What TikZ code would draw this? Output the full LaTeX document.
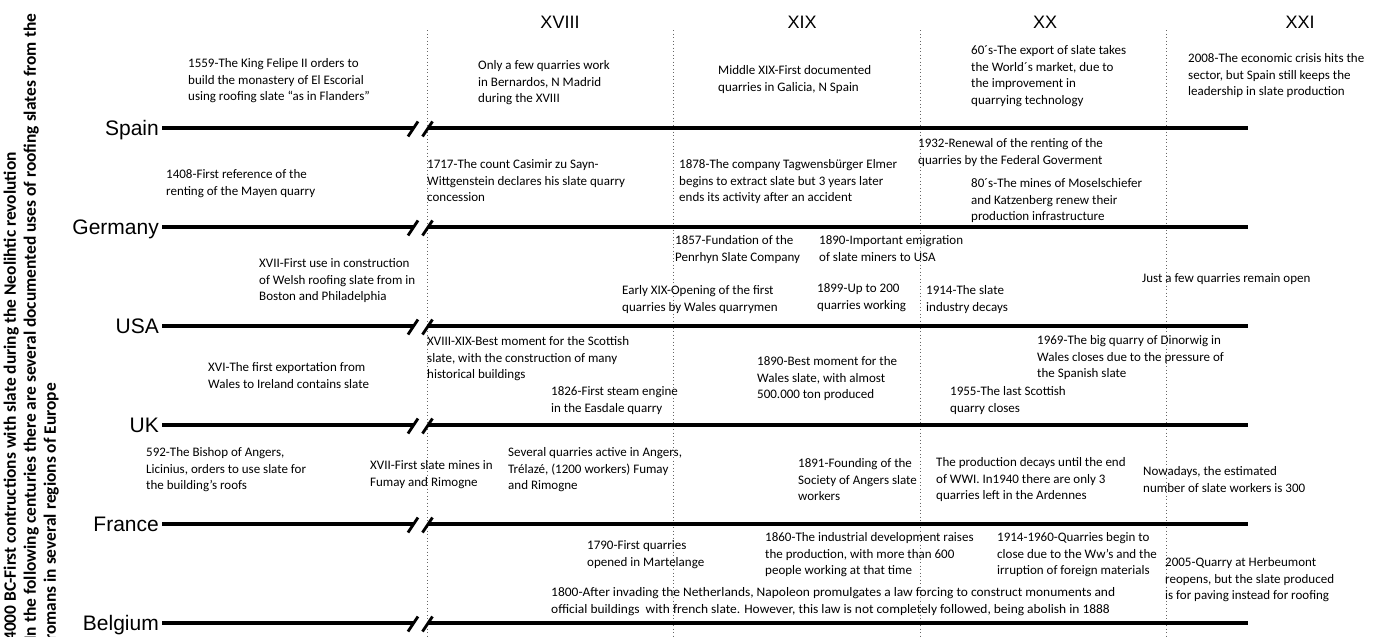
\documentclass[tikz,border=0pt]{standalone}
\usepackage{fontspec}
\setmainfont{Carlito}
\newfontfamily\arialf{Liberation Sans}
\begin{document}
\begin{tikzpicture}[x=1pt,y=-1pt,
  ev/.style={font=\fontsize{13}{16.6}\selectfont, align=left, anchor=north west, inner sep=0pt, yshift=8.62pt, execute at begin node=\strut},
  country/.style={font=\arialf\fontsize{21}{24}\selectfont, anchor=base east, inner sep=0pt},
  century/.style={font=\arialf\fontsize{18}{20}\selectfont, anchor=base, inner sep=0pt},
  tline/.style={line width=4.5pt},
  brk/.style={line width=2.8pt},
  gridline/.style={black!60, line width=0.9pt, dash pattern=on 0.9pt off 2.6pt},
  intro/.style={font=\bfseries\fontsize{17.4}{20}\selectfont, align=left, rotate=90, anchor=north west, inner sep=0pt}
]
\useasboundingbox (0,0) rectangle (1376,637);

% century separators
\foreach \i/\x in {1/427,2/673,3/920,4/1166}{
  \coordinate (g\i t) at (\x,30);
  \coordinate (g\i b) at (\x,637);
  \draw[gridline] (g\i t) -- (g\i b);
}

% century labels
\node[century] (c18) at (560,28.5) {XVIII};
\node[century] (c19) at (802,28.5) {XIX};
\node[century] (c20) at (1045,28.5) {XX};
\node[century] (c21) at (1300,28.5) {XXI};

% timelines
\foreach \n/\y/\lab in {spain/128/Spain, germany/227/Germany, usa/326/USA, uk/425/UK, france/524/France, belgium/623/Belgium}{
  \node[country] (\n) at (159,\y+7.5) {\lab};
  \coordinate (\n-a) at (162,\y);
  \coordinate (\n-b) at (413,\y);
  \coordinate (\n-c) at (428,\y);
  \coordinate (\n-d) at (1248,\y);
  \coordinate (\n-s1) at (408,\y+8.5);
  \coordinate (\n-s2) at (418,\y-6.5);
  \coordinate (\n-s3) at (422.5,\y+8.5);
  \coordinate (\n-s4) at (432.5,\y-6.5);
  \draw[tline] (\n-a) -- (\n-b);
  \draw[tline] (\n-c) -- (\n-d);
  \draw[brk] (\n-s1) -- (\n-s2);
  \draw[brk] (\n-s3) -- (\n-s4);
}

% intro rotated text
\begin{scope}
\clip (0,0) rectangle (1376,637);
\node[intro] (introtxt) at (3.5,641) {4000 BC-First contructions with slate during the Neolihtic revolution\\In the following centuries there are several documented uses of roofing slates from the\\romans in several regions of Europe};
\end{scope}

% Spain
\node[ev] (spA) at (188,67) {1559-The King Felipe II orders to\\build the monastery of El Escorial\\using roofing slate “as in Flanders”};
\node[ev] (spB) at (478,69) {Only a few quarries work\\in Bernardos, N Madrid\\during the XVIII};
\node[ev] (spC) at (718,74) {Middle XIX-First documented\\quarries in Galicia, N Spain};
\node[ev] (spD) at (971,54) {60´s-The export of slate takes\\the World´s market, due to\\the improvement in\\quarrying technology};
\node[ev] (spE) at (1188,62) {2008-The economic crisis hits the\\sector, but Spain still keeps the\\leadership in slate production};

% Germany
\node[ev] (deA) at (166,178) {1408-First reference of the\\renting of the Mayen quarry};
\node[ev] (deB) at (427,168) {1717-The count Casimir zu Sayn-\\Wittgenstein declares his slate quarry\\concession};
\node[ev] (deC) at (679,168) {1878-The company Tagwensbürger Elmer\\begins to extract slate but 3 years later\\ends its activity after an accident};
\node[ev] (deD) at (918,147) {1932-Renewal of the renting of the\\quarries by the Federal Goverment};
\node[ev] (deE) at (971,187) {80´s-The mines of Moselschiefer\\and Katzenberg renew their\\production infrastructure};

% USA
\node[ev] (usA) at (259,267) {XVII-First use in construction\\of Welsh roofing slate from in\\Boston and Philadelphia};
\node[ev] (usB) at (675,244) {1857-Fundation of the\\Penrhyn Slate Company};
\node[ev] (usC) at (819,244) {1890-Important emigration\\of slate miners to USA};
\node[ev] (usD) at (622,294) {Early XIX-Opening of the first\\quarries by Wales quarrymen};
\node[ev] (usE) at (817,292) {1899-Up to 200\\quarries working};
\node[ev] (usF) at (926,294) {1914-The slate\\industry decays};
\node[ev] (usG) at (1142,279) {Just a few quarries remain open};

% UK
\node[ev] (ukA) at (427,345) {XVIII-XIX-Best moment for the Scottish\\slate, with the construction of many\\historical buildings};
\node[ev] (ukB) at (208,371) {XVI-The first exportation from\\Wales to Ireland contains slate};
\node[ev] (ukC) at (551,395) {1826-First steam engine\\in the Easdale quarry};
\node[ev] (ukD) at (757,365) {1890-Best moment for the\\Wales slate, with almost\\500.000 ton produced};
\node[ev] (ukE) at (1037,344) {1969-The big quarry of Dinorwig in\\Wales closes due to the pressure of\\the Spanish slate};
\node[ev] (ukF) at (950,395) {1955-The last Scottish\\quarry closes};

% France
\node[ev] (frA) at (146,456) {592-The Bishop of Angers,\\Licinius, orders to use slate for\\the building’s roofs};
\node[ev] (frB) at (370,469) {XVII-First slate mines in\\Fumay and Rimogne};
\node[ev] (frC) at (508,456) {Several quarries active in Angers,\\Trélazé, (1200 workers) Fumay\\and Rimogne};
\node[ev] (frD) at (798,467) {1891-Founding of the\\Society of Angers slate\\workers};
\node[ev] (frE) at (936,466) {The production decays until the end\\of WWI. In1940 there are only 3\\quarries left in the Ardennes};
\node[ev] (frF) at (1143,475) {Nowadays, the estimated\\number of slate workers is 300};

% Belgium
\node[ev] (beA) at (587,549) {1790-First quarries\\opened in Martelange};
\node[ev] (beB) at (765,541) {1860-The industrial development raises\\the production, with more than 600\\people working at that time};
\node[ev] (beC) at (997,541) {1914-1960-Quarries begin to\\close due to the Ww’s and the\\irruption of foreign materials};
\node[ev] (beD) at (1165,566) {2005-Quarry at Herbeumont\\reopens, but the slate produced\\is for paving instead for roofing};
\node[ev, xscale=1.035] (beE) at (551,596) {1800-After invading the Netherlands, Napoleon promulgates a law forcing to construct monuments and\\official buildings\ \ with french slate. However, this law is not completely followed, being abolish in 1888};
\end{tikzpicture}
\end{document}
